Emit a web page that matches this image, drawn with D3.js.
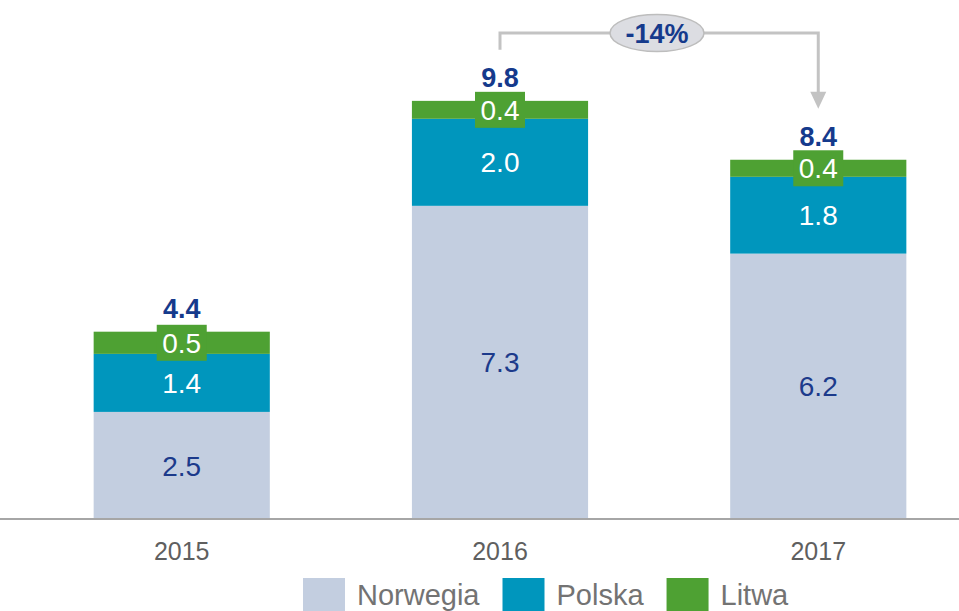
<!DOCTYPE html>
<html>
<head>
<meta charset="utf-8">
<script src="https://cdn.jsdelivr.net/npm/d3@7"></script>
<style>
  body { margin: 0; background: #fff; }
  svg { display: block; font-family: Arial, "Liberation Sans", sans-serif; }
</style>
</head>
<body>
<div id="chart"></div>
<script>
// data
var years = ["2015", "2016", "2017"]
var series = ["Norwegia", "Polska", "Litwa"]
var norwegia = [2.51, 7.34, 6.22]
var polska = [1.36, 2.04, 1.80]
var litwa = [0.52, 0.42, 0.40]
var change = "-14%"

var colors = { Norwegia: "#c3cee0", Polska: "#0096bd", Litwa: "#4ea133" }
var labelColors = { Norwegia: "#1c3a8b", Polska: "#ffffff", Litwa: "#ffffff" }

var width = 959, height = 611

var rows = years.map(function(y, i) {
  return { year: y, Norwegia: norwegia[i], Polska: polska[i], Litwa: litwa[i] }
})
var totals = rows.map(function(r) { return r.Norwegia + r.Polska + r.Litwa })

var svg = d3.select("#chart")
  .append("svg")
  .attr("width", width)
  .attr("height", height)

var x = d3.scaleBand()
  .domain(years)
  .range([30, 970])
  .paddingInner(0.4465)
  .paddingOuter(0.2)

var y = d3.scaleLinear()
  .domain([0, 12])
  .range([519, 7])

var stack = d3.stack().keys(series)
var layers = stack(rows)
var fmt = d3.format(".1f")

// bars
var layer = svg.selectAll("g.layer")
  .data(layers)
  .enter()
  .append("g")
  .attr("class", "layer")
  .attr("fill", function(d) { return colors[d.key] })

layer.selectAll("rect")
  .data(function(d) { return d })
  .enter()
  .append("rect")
  .attr("x", function(d) { return x(d.data.year) })
  .attr("width", x.bandwidth())
  .attr("y", function(d) { return y(d[1]) })
  .attr("height", function(d) { return y(d[0]) - y(d[1]) })

// axis line
svg.append("line")
  .attr("x1", 0).attr("x2", width)
  .attr("y1", y(0)).attr("y2", y(0))
  .attr("stroke", "#a6a6a6")
  .attr("stroke-width", 2)

// segment labels
layers.forEach(function(l) {
  l.forEach(function(d) {
    var cx = x(d.data.year) + x.bandwidth() / 2
    var cy = (y(d[0]) + y(d[1])) / 2
    if (l.key === "Litwa") {
      svg.append("rect")
        .attr("x", cx - 25).attr("y", cy - 18)
        .attr("width", 50).attr("height", 36)
        .attr("fill", colors.Litwa)
    }
    svg.append("text")
      .attr("x", cx)
      .attr("y", cy)
      .attr("dy", "0.36em")
      .attr("text-anchor", "middle")
      .attr("font-size", 28)
      .attr("fill", labelColors[l.key])
      .text(fmt(d[1] - d[0]))
  })
})

// totals
svg.selectAll("text.total")
  .data(rows)
  .enter()
  .append("text")
  .attr("class", "total")
  .attr("x", function(d) { return x(d.year) + x.bandwidth() / 2 })
  .attr("y", function(d, i) { return y(totals[i]) - 14 })
  .attr("text-anchor", "middle")
  .attr("font-size", 27)
  .attr("font-weight", "bold")
  .attr("fill", "#153a8c")
  .text(function(d, i) { return fmt(totals[i]) })

// year labels
svg.selectAll("text.year")
  .data(years)
  .enter()
  .append("text")
  .attr("class", "year")
  .attr("x", function(d) { return x(d) + x.bandwidth() / 2 })
  .attr("y", 560)
  .attr("text-anchor", "middle")
  .attr("font-size", 25)
  .attr("fill", "#5f5f5f")
  .text(function(d) { return d })

// change bracket 2016 -> 2017
var xa = x(years[1]) + x.bandwidth() / 2
var xb = x(years[2]) + x.bandwidth() / 2
var topY = 33
var ya = y(totals[1]) - 51
var yb = y(totals[2]) - 51

svg.append("path")
  .attr("d", "M" + xa + "," + ya + "V" + topY + "H" + xb + "V" + (yb - 16))
  .attr("fill", "none")
  .attr("stroke", "#c3c3c3")
  .attr("stroke-width", 3)

svg.append("path")
  .attr("d", "M" + (xb - 8) + "," + (yb - 17) + "L" + (xb + 8) + "," + (yb - 17) + "L" + xb + "," + yb + "Z")
  .attr("fill", "#c3c3c3")

var ecx = 657
svg.append("ellipse")
  .attr("cx", ecx).attr("cy", topY)
  .attr("rx", 47).attr("ry", 18.5)
  .attr("fill", "#dcdde2")
  .attr("stroke", "#bdbdbd")
  .attr("stroke-width", 1.5)

svg.append("text")
  .attr("x", ecx).attr("y", topY)
  .attr("dy", "0.36em")
  .attr("text-anchor", "middle")
  .attr("font-size", 27)
  .attr("font-weight", "bold")
  .attr("fill", "#153a8c")
  .text(change)

// legend
var lx = 303
series.forEach(function(s) {
  svg.append("rect")
    .attr("x", lx).attr("y", 578)
    .attr("width", 42).attr("height", 33)
    .attr("fill", colors[s])
  var t = svg.append("text")
    .attr("x", lx + 54).attr("y", 605)
    .attr("font-size", 29)
    .attr("fill", "#737373")
    .text(s)
  lx = lx + 54 + t.node().getComputedTextLength() + 23
})
</script>
</body>
</html>
